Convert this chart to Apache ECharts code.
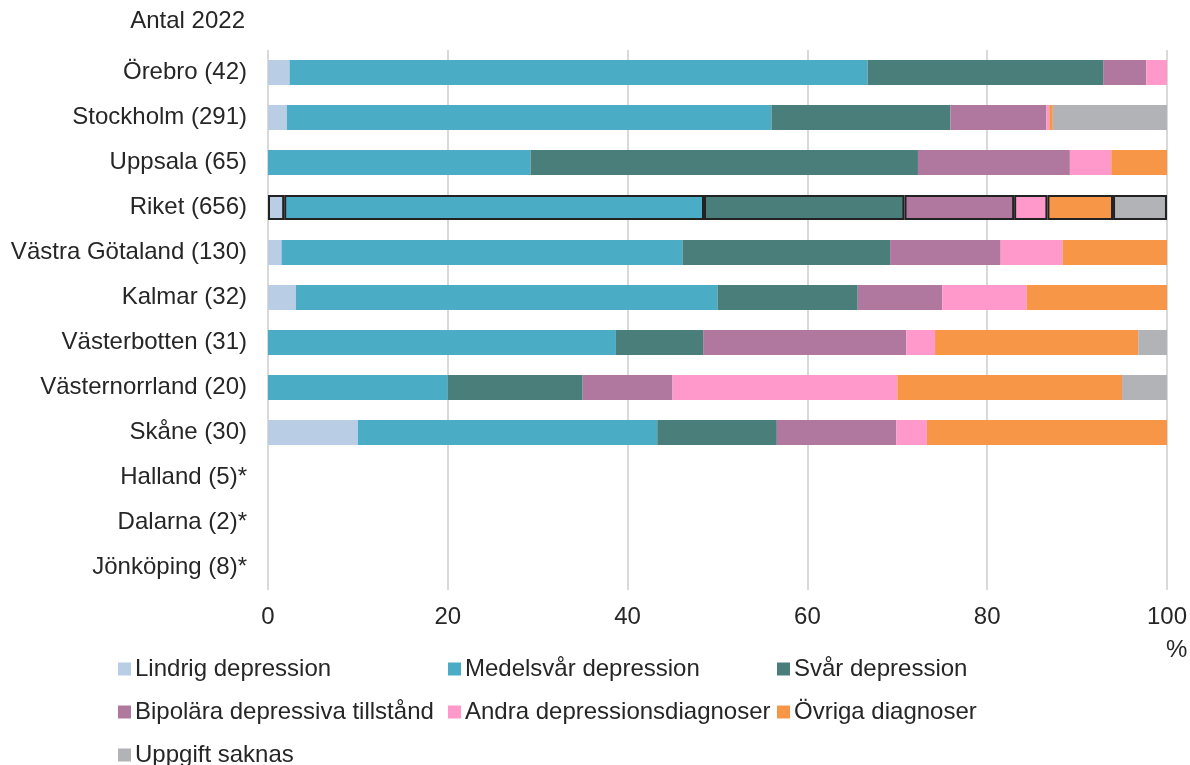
<!DOCTYPE html>
<html><head><meta charset="utf-8">
<script src="https://cdn.jsdelivr.net/npm/echarts@6/dist/echarts.min.js"></script>
<style>html,body{margin:0;padding:0;background:#fff}#c{width:1190px;height:765px}</style>
</head><body><div id="c"></div>
<script>
const categories = ['Örebro (42)','Stockholm (291)','Uppsala (65)','Riket (656)','Västra Götaland (130)','Kalmar (32)','Västerbotten (31)','Västernorrland (20)','Skåne (30)','Halland (5)*','Dalarna (2)*','Jönköping (8)*'];
const seriesNames = ['Lindrig depression','Medelsvår depression','Svår depression','Bipolära depressiva tillstånd','Andra depressionsdiagnoser','Övriga diagnoser','Uppgift saknas'];
const colors = ['#B9CDE5','#4BACC6','#4A7E7B','#B0789E','#FF99CC','#F79646','#B2B3B6'];
const lindrig   = [2.4, 2.1, 0,    1.8, 1.5,  3.1, 0,    0,  10.0, 0,0,0];
const medelsvar = [64.3,53.9,29.2, 46.7,44.6, 46.9,38.7, 20, 33.3, 0,0,0];
const svar      = [26.2,19.9,43.1, 22.3,23.1, 15.6,9.7,  15, 13.3, 0,0,0];
const bipolar   = [4.8, 10.7,16.9, 12.2,12.3, 9.4, 22.6, 10, 13.3, 0,0,0];
const andra     = [2.3, 0.3, 4.6,  3.7, 6.9,  9.4, 3.2,  25, 3.4,  0,0,0];
const ovriga    = [0,   0.4, 6.2,  7.3, 11.6, 15.6,22.6, 25, 26.7, 0,0,0];
const saknas    = [0,   12.7,0,    6.0, 0,    0,   3.2,  5,  0,    0,0,0];
const xTicks = [0,20,40,60,80,100];
const highlightIndex = 3;

const allData = [lindrig, medelsvar, svar, bipolar, andra, ovriga, saknas];
const textColor = '#262626';
const font = "'Liberation Sans', Arial, sans-serif";
const fs = 24;

const series = seriesNames.map((name, si) => ({
  name, type: 'bar', stack: 'total', barWidth: 25,
  itemStyle: { color: colors[si], borderWidth: 0 },
  data: allData[si].map((v, i) => i === highlightIndex
    ? { value: v, itemStyle: { borderColor: '#222', borderWidth: 2 } }
    : v)
}));

const legendCommon = {
  orient: 'vertical', icon: 'rect', itemWidth: 13, itemHeight: 13, itemGap: 19,
  padding: 0, height: 160,
  selectedMode: false,
  textStyle: { fontSize: fs, color: textColor, fontFamily: font, lineHeight: 24, padding: [0,0,0,-1] }
};

const chart = echarts.init(document.getElementById('c'), null, {renderer: 'canvas'});
chart.setOption({
  animation: false,
  color: colors,
  textStyle: { fontFamily: font },
  grid: { left: 268, right: 22, top: 50, bottom: 175, containLabel: false },
  xAxis: {
    type: 'value', min: xTicks[0], max: xTicks[xTicks.length-1], interval: 20,
    axisLine: { show: false }, axisTick: { show: false },
    axisLabel: { fontSize: fs, color: textColor, margin: 15, fontFamily: font },
    splitLine: { lineStyle: { color: '#D9D9D9', width: 2 } }
  },
  yAxis: {
    type: 'category', inverse: true, data: categories,
    axisLine: { show: false }, axisTick: { show: false },
    axisLabel: { fontSize: fs, color: textColor, margin: 21, fontFamily: font }
  },
  legend: [
    Object.assign({ left: 118, top: 657, data: [seriesNames[0], seriesNames[3], seriesNames[6]] }, legendCommon),
    Object.assign({ left: 448, top: 657, data: [seriesNames[1], seriesNames[4]] }, legendCommon),
    Object.assign({ left: 777, top: 657, data: [seriesNames[2], seriesNames[5]] }, legendCommon)
  ],
  graphic: [
    { type: 'text', right: 1190 - 245, top: 9, style: { text: 'Antal 2022', fontSize: fs, fill: textColor, fontFamily: font, textAlign: 'right' } },
    { type: 'text', left: 1166, top: 638, style: { text: '%', fontSize: fs, fill: textColor, fontFamily: font } }
  ],
  series
});
</script></body></html>
